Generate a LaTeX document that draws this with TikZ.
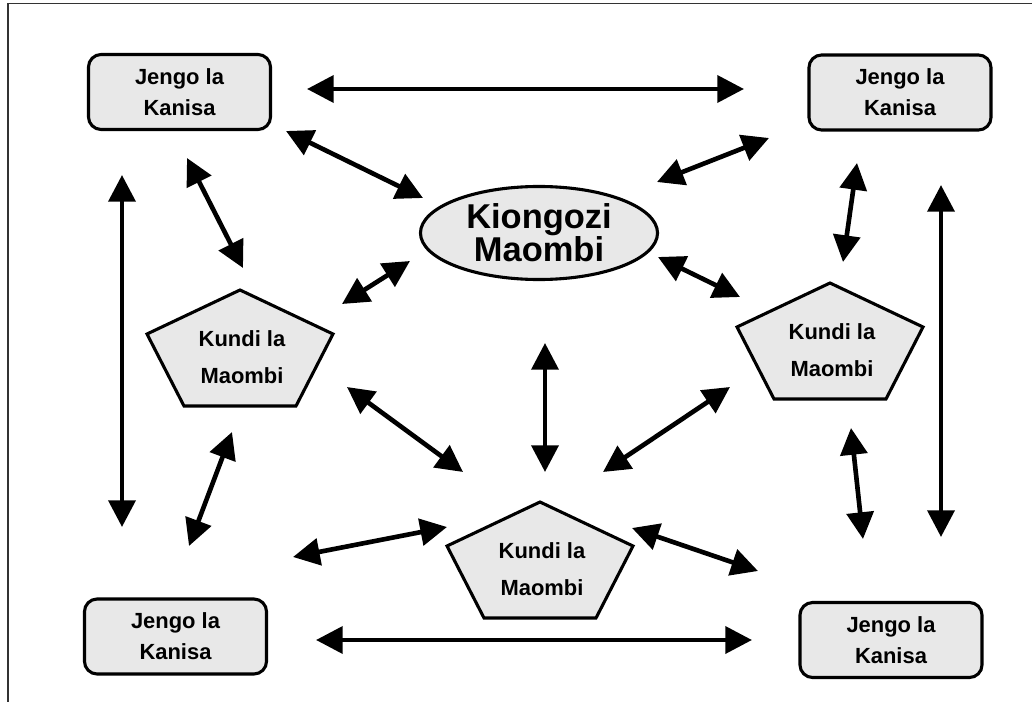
\documentclass[tikz,border=0pt]{standalone}
\usepackage{fontspec}
\setmainfont{Liberation Sans}
\usetikzlibrary{arrows.meta,shapes.geometric}

\definecolor{shapegray}{HTML}{E8E8E8}
\definecolor{framegray}{HTML}{333333}

\tikzset{
  jengo/.style={draw, line width=2.2pt, fill=shapegray, rounded corners=9pt,
    minimum width=4.55cm, minimum height=1.875cm, align=center,
    font=\bfseries\fontsize{15.6pt}{22pt}\selectfont,
    execute at begin node={\rule{0pt}{17pt}}},
  kiongozi/.style={ellipse, draw, line width=2.2pt, fill=shapegray, inner sep=0pt,
    minimum width=5.925cm, minimum height=2.325cm, align=center,
    font=\bfseries\fontsize{24.5pt}{23.4pt}\selectfont},
  kundiline/.style={draw, line width=2.2pt, fill=shapegray, line join=miter},
  kunditext/.style={align=center, inner sep=0pt,
    font=\bfseries\fontsize{15.6pt}{26pt}\selectfont},
  twoway/.style={{Triangle[length=19pt,width=19pt]}-{Triangle[length=19pt,width=19pt]},
    line width=3.3pt}
}

% pentagon "Kundi la Maombi": #1 name, #2 centre
\newcommand{\kundi}[2]{%
  \coordinate (#1) at (#2);
  \filldraw[kundiline] (#1) ++(0,-58) -- ++(93,44) -- ++(-37,72) -- ++(-112,0) -- ++(-37,-72) -- cycle;
  \node[kunditext] (#1-t) at ([shift={(2,9)}]#1) {Kundi la\\Maombi};
}

\begin{document}
\begin{tikzpicture}[x=0.025cm, y=-0.025cm]
    \useasboundingbox (0,0) rectangle (1032,702);

    % frame (top and left only)
    \draw[framegray, line width=1.2pt] (8,702) -- (8,3.5) -- (1032,3.5);

    % the buildings
    \node[jengo] (jtl) at (179.5,92) {Jengo la\\Kanisa};
    \node[jengo] (jtr) at (900,92.5) {Jengo la\\Kanisa};
    \node[jengo] (jbl) at (175.5,636.5) {Jengo la\\Kanisa};
    \node[jengo] (jbr) at (891,640) {Jengo la\\Kanisa};

    % the leader in the middle
    \node[kiongozi] (kio) at (539,233) {Kiongozi\\Maombi};

    % the prayer groups
    \kundi{kl}{240,348}
    \kundi{kr}{830,341}
    \kundi{kb}{540,560}

    % ends of the arrows (they stop short of the shapes)
    \coordinate (topL) at (307,89);   \coordinate (topR) at (744,89);
    \coordinate (tlK1) at (286,131);  \coordinate (tlK2) at (423,198);
    \coordinate (trK1) at (769,138);  \coordinate (trK2) at (657,182);
    \coordinate (tlP1) at (187,158);  \coordinate (tlP2) at (243,268);
    \coordinate (lv1) at (122,175);   \coordinate (lv2) at (122,527);
    \coordinate (trP1) at (857,163);  \coordinate (trP2) at (843,262);
    \coordinate (rv1) at (941,185);   \coordinate (rv2) at (941,537);
    \coordinate (kL1) at (410,261);   \coordinate (kL2) at (342,304);
    \coordinate (kR1) at (658,257);   \coordinate (kR2) at (740,297);
    \coordinate (kB1) at (545,343);   \coordinate (kB2) at (545,472);
    \coordinate (lb1) at (347,387);   \coordinate (lb2) at (463,472);
    \coordinate (rb1) at (730,387);   \coordinate (rb2) at (603,472);
    \coordinate (lj1) at (232,432);   \coordinate (lj2) at (189,546);
    \coordinate (bj1) at (293,557);   \coordinate (bj2) at (447,527);
    \coordinate (bk1) at (632,528);   \coordinate (bk2) at (758,571);
    \coordinate (bot1) at (316,640);  \coordinate (bot2) at (752,640);
    \coordinate (rj1) at (851,428);   \coordinate (rj2) at (863,539);

    % draw the arrows
    \draw[twoway] (topL) -- (topR);
    \draw[twoway] (tlK1) -- (tlK2);
    \draw[twoway] (trK1) -- (trK2);
    \draw[twoway] (tlP1) -- (tlP2);
    \draw[twoway] (lv1) -- (lv2);
    \draw[twoway] (trP1) -- (trP2);
    \draw[twoway] (rv1) -- (rv2);
    \draw[twoway] (kL1) -- (kL2);
    \draw[twoway] (kR1) -- (kR2);
    \draw[twoway] (kB1) -- (kB2);
    \draw[twoway] (lb1) -- (lb2);
    \draw[twoway] (rb1) -- (rb2);
    \draw[twoway] (lj1) -- (lj2);
    \draw[twoway] (bj1) -- (bj2);
    \draw[twoway] (bk1) -- (bk2);
    \draw[twoway] (bot1) -- (bot2);
    \draw[twoway] (rj1) -- (rj2);
\end{tikzpicture}
\end{document}
